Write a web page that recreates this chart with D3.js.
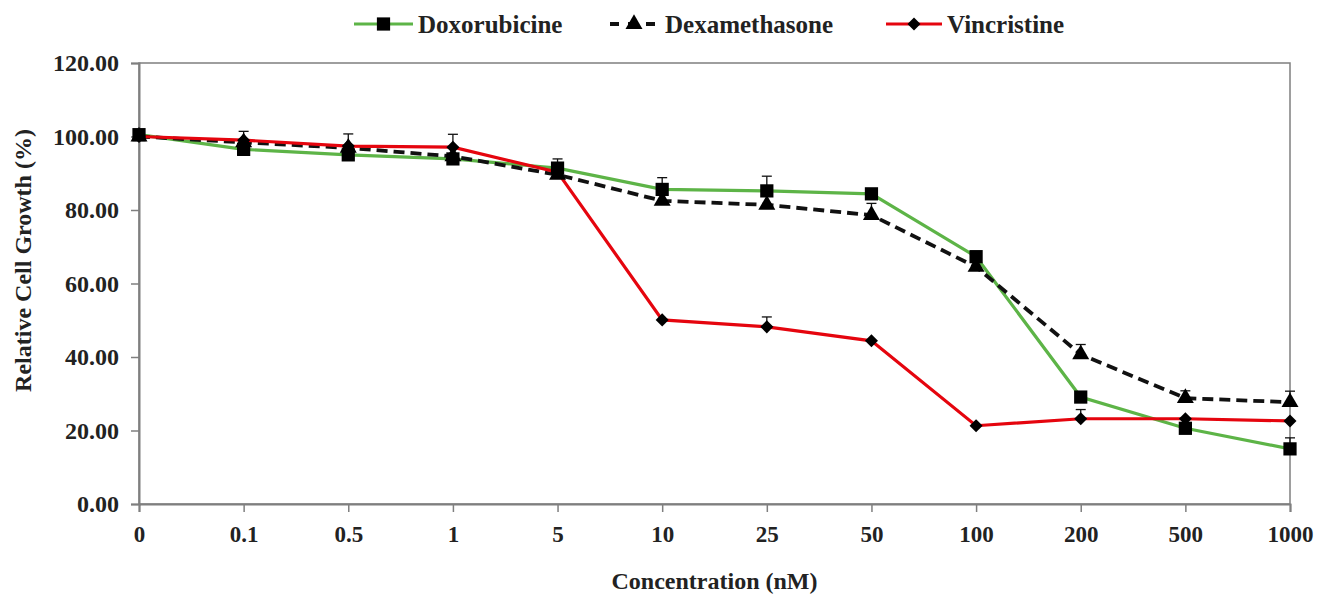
<!DOCTYPE html>
<html>
<head>
<meta charset="utf-8">
<script src="https://cdn.jsdelivr.net/npm/d3@7"></script>
<style>
  body { margin: 0; background: #fff; }
  svg text { font-family: 'Liberation Serif', Tinos, 'DejaVu Serif', serif !important; font-weight: bold; fill: #222; }
</style>
</head>
<body>
<div id="chart"></div>
<script>
const concentrations = ["0", "0.1", "0.5", "1", "5", "10", "25", "50", "100", "200", "500", "1000"];

const doxorubicine = [100.5, 96.5, 95.0, 93.9, 91.4, 85.6, 85.2, 84.4, 67.3, 29.1, 20.6, 15.0];
const doxErr       = [0, 0, 0, 0, 2.5, 3.2, 4.0, 0, 0, 0, 0, 3.0];

const dexamethasone = [100, 98.4, 96.9, 94.6, 89.6, 82.5, 81.4, 78.6, 64.5, 40.7, 28.8, 27.7];
const dexErr        = [0, 3.0, 3.8, 0, 0, 0, 0, 3.2, 0, 2.7, 2.0, 3.0];

const vincristine = [100, 99.0, 97.4, 97.1, 90.3, 50.1, 48.2, 44.4, 21.3, 23.2, 23.2, 22.6];
const vinErr      = [0, 0, 0, 3.5, 0, 0, 2.7, 0, 0, 2.5, 0, 0];

const yTicks = [0, 20, 40, 60, 80, 100, 120];

const W = 1320, H = 596;
const plotLeft = 139, plotRight = 1290, plotTop = 63, plotBottom = 504;
const serif = "'Liberation Serif', Tinos, 'DejaVu Serif', serif";

const svg = d3.select("#chart").append("svg")
  .attr("width", W)
  .attr("height", H)
  .attr("font-family", serif);

const x = d3.scalePoint()
  .domain(concentrations)
  .range([plotLeft, plotRight]);

const y = d3.scaleLinear()
  .domain([0, 120])
  .range([plotBottom, plotTop]);

const axisColor = "#7f7f7f";

// frame
svg.append("rect")
  .attr("x", plotLeft).attr("y", plotTop)
  .attr("width", plotRight - plotLeft).attr("height", plotBottom - plotTop)
  .attr("fill", "none")
  .attr("stroke", axisColor)
  .attr("stroke-width", 1.5);

// Y axis
const yAxis = svg.append("g")
  .attr("transform", `translate(${plotLeft},0)`)
  .call(d3.axisLeft(y).tickValues(yTicks).tickFormat(d3.format(".2f")).tickSize(8).tickPadding(12));
yAxis.attr("font-family", serif);
yAxis.select(".domain").attr("stroke", axisColor).attr("stroke-width", 2);
yAxis.selectAll(".tick line").attr("stroke", axisColor).attr("stroke-width", 1.5);
yAxis.selectAll(".tick text").style("font-size", "24px").style("font-family", serif).attr("fill", "#222");

// X axis
const xAxis = svg.append("g")
  .attr("transform", `translate(0,${plotBottom})`)
  .call(d3.axisBottom(x).tickSize(8).tickPadding(14));
xAxis.attr("font-family", serif);
xAxis.select(".domain").attr("stroke", axisColor).attr("stroke-width", 2);
xAxis.selectAll(".tick line").attr("stroke", axisColor).attr("stroke-width", 1.5);
xAxis.selectAll(".tick text").style("font-size", "23px").style("font-family", serif).attr("fill", "#222");

// axis titles
svg.append("text")
  .attr("x", (plotLeft + plotRight) / 2)
  .attr("y", 589)
  .attr("text-anchor", "middle")
  .style("font-size", "24px")
  .style("font-family", serif)
  .text("Concentration (nM)");

svg.append("text")
  .attr("transform", `translate(31,${(plotTop + plotBottom) / 2 - 23}) rotate(-90)`)
  .attr("text-anchor", "middle")
  .style("font-size", "24px")
  .style("font-family", serif)
  .text("Relative Cell Growth (%)");

const series = [
  { name: "Doxorubicine", values: doxorubicine, err: doxErr, color: "#5db447", dash: null, width: 3.2, marker: d3.symbolSquare, size: 175, rot: 0 },
  { name: "Dexamethasone", values: dexamethasone, err: dexErr, color: "#111", dash: "11,6", width: 3.8, marker: d3.symbolTriangle, size: 125, rot: 0 },
  { name: "Vincristine", values: vincristine, err: vinErr, color: "#e5050e", dash: null, width: 3.2, marker: d3.symbolSquare, size: 85, rot: 45 }
];

const line = d3.line()
  .x((d, i) => x(concentrations[i]))
  .y(d => y(d));

// error bars (positive only)
series.forEach(s => {
  const g = svg.append("g");
  s.values.forEach((v, i) => {
    if (!s.err[i]) return;
    const cx = x(concentrations[i]);
    g.append("line")
      .attr("x1", cx).attr("x2", cx)
      .attr("y1", y(v)).attr("y2", y(v + s.err[i]))
      .attr("stroke", "#111").attr("stroke-width", 1.3);
    g.append("line")
      .attr("x1", cx - 5).attr("x2", cx + 5)
      .attr("y1", y(v + s.err[i])).attr("y2", y(v + s.err[i]))
      .attr("stroke", "#111").attr("stroke-width", 1.3);
  });
});

// lines
series.forEach(s => {
  svg.append("path")
    .datum(s.values)
    .attr("d", line)
    .attr("fill", "none")
    .attr("stroke", s.color)
    .attr("stroke-width", s.width)
    .attr("stroke-dasharray", s.dash);
});

// markers: diamonds, triangles, then squares on top
[2, 1, 0].forEach(k => {
  const s = series[k];
  svg.append("g").selectAll("path")
    .data(s.values)
    .join("path")
    .attr("transform", (d, i) => `translate(${x(concentrations[i])},${y(d)}) rotate(${s.rot})`)
    .attr("d", d3.symbol().type(s.marker).size(s.size))
    .attr("fill", "#000");
});

// legend
const legendX = [354, 608, 886];
const legendW = [59, 52, 56];
series.forEach((s, k) => {
  const g = svg.append("g").attr("transform", `translate(${legendX[k]},24)`);
  g.append("line")
    .attr("x1", 0).attr("x2", legendW[k])
    .attr("y1", 0).attr("y2", 0)
    .attr("stroke", s.color)
    .attr("stroke-width", s.width)
    .attr("stroke-dasharray", s.dash ? "9,9" : null)
    .attr("stroke-dashoffset", s.dash ? -2 : null);
  g.append("path")
    .attr("transform", `translate(${legendW[k] / 2},0) rotate(${s.rot})`)
    .attr("d", d3.symbol().type(s.marker).size(s.size))
    .attr("fill", "#000");
  g.append("text")
    .attr("x", legendW[k] + 5)
    .attr("y", 8.5)
    .style("font-size", "25px")
    .style("font-family", serif)
    .text(s.name);
});
</script>
</body>
</html>
